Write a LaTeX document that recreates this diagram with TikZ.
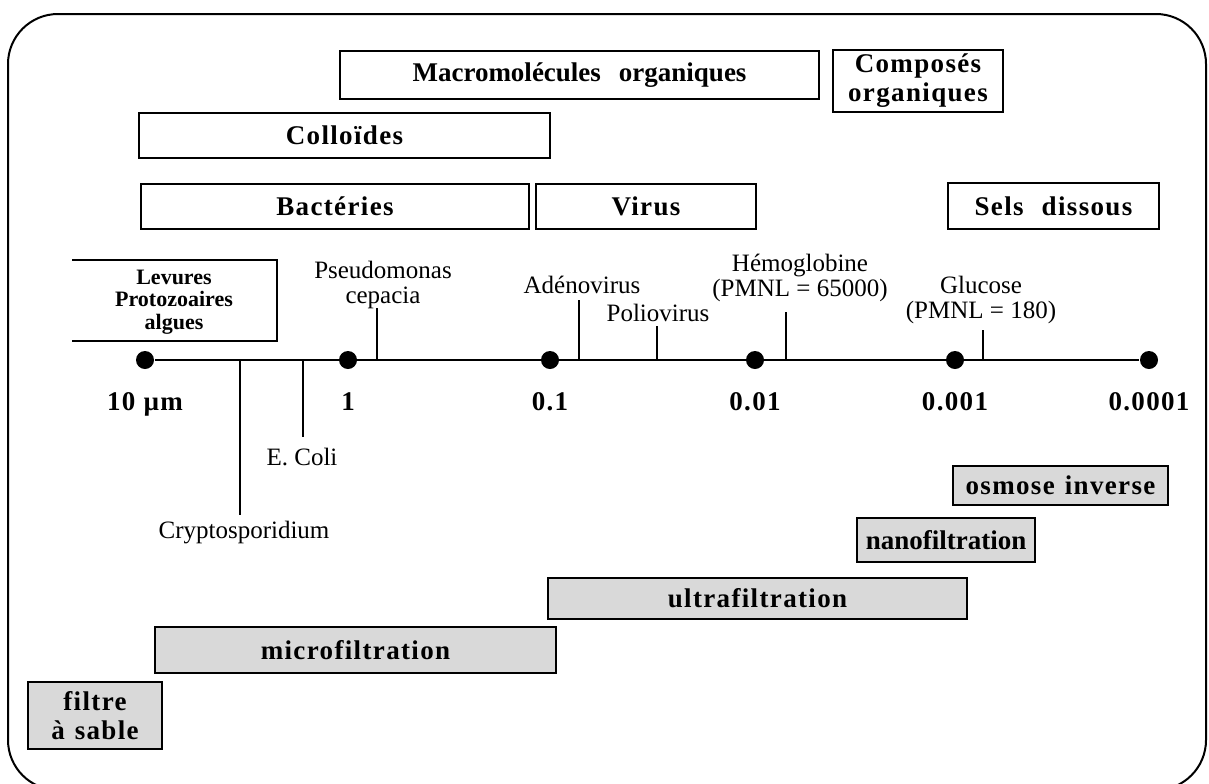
\documentclass[tikz,border=0pt]{standalone}
\usepackage{fontspec}
\setmainfont{Liberation Serif}
\newfontfamily\labfont[LetterSpace=5]{Liberation Serif}
\usetikzlibrary{positioning}

\begin{document}
\begin{tikzpicture}[x=0.5pt,y=-0.5pt,line width=1pt,
    box/.style={draw,inner sep=0pt,align=center,font=\labfont\bfseries\fontsize{13.5}{14.5}\selectfont},
    filt/.style={box,fill=black!15},
    dot/.style={circle,fill,inner sep=0pt,minimum size=9pt},
    num/.style={inner sep=0pt,font=\labfont\bfseries\fontsize{13.5}{15}\selectfont},
    lbl/.style={inner sep=0pt,align=center,font=\fontsize{12.5}{12.5}\selectfont}]
    \useasboundingbox (0,0) rectangle (1209,783);
    \draw[rounded corners=25pt] (8,14) rectangle (1206,790);
    \node[box,minimum width=239.5pt,minimum height=24pt,font=\bfseries\fontsize{13.5}{14.5}\selectfont] (macro) at (579.5,75) {Macromolécules\hspace{9pt}organiques};
    \node[box,minimum width=85pt,minimum height=31pt] (compo) at (918,81) {Composés\\organiques};
    \node[box,minimum width=205.5pt,minimum height=22.5pt] (coll) at (344.5,135.5) {Colloïdes};
    \node[box,minimum width=194pt,minimum height=22.5pt] (bact) at (335,206.5) {Bactéries};
    \node[box,minimum width=110pt,minimum height=22.5pt] (virus) at (646,206.5) {Virus};
    \node[box,minimum width=105.5pt,minimum height=23pt] (sels) at (1053.5,206) {Sels\hspace{9pt}dissous};
    \draw (72,260) -| (277,341) -- (72,341);
    \node[lbl,font=\bfseries\fontsize{11}{11.25}\selectfont] (levures) at (174,302) {Levures\\Protozoaires\\algues};
    \node[dot] (d10) at (145,360) {};
    \node[dot] (d1) at (348,360) {};
    \node[dot] (d01) at (550,360) {};
    \node[dot] (d001) at (755,360) {};
    \node[dot] (d0001) at (955,360) {};
    \node[dot] (d00001) at (1149,360) {};
    \draw (d10) -- (d00001);
    \node[num,below=11pt of d10] (n10) {10 µm};
    \node[num,below=11pt of d1] (n1) {1};
    \node[num,below=11pt of d01] (n01) {0.1};
    \node[num,below=11pt of d001] (n001) {0.01};
    \node[num,below=11pt of d0001] (n0001) {0.001};
    \node[num,below=11pt of d00001] (n00001) {0.0001};
    \coordinate (pse) at (377,308);
    \coordinate (ade) at (579,300);
    \coordinate (pol) at (657,326);
    \coordinate (hem) at (786,312);
    \coordinate (glu) at (983,330);
    \coordinate (eco) at (303,437);
    \coordinate (cry) at (240,515);
    \draw (pse) -- (pse |- d1);
    \draw (ade) -- (ade |- d1);
    \draw (pol) -- (pol |- d1);
    \draw (hem) -- (hem |- d1);
    \draw (glu) -- (glu |- d1);
    \draw (eco |- d1) -- (eco);
    \draw (cry |- d1) -- (cry);
    \node[lbl] (pseL) at (383,285) {Pseudomonas\\cepacia};
    \node[lbl] (adeL) at (582,285) {Adénovirus};
    \node[lbl] (polL) at (658,313) {Poliovirus};
    \node[lbl] (hemL) at (800,278) {Hémoglobine\\(PMNL = 65000)};
    \node[lbl] (gluL) at (981,300) {Glucose\\(PMNL = 180)};
    \node[lbl] (ecoL) at (302,457) {E. Coli};
    \node[lbl] (cryL) at (244,533) {Cryptosporidium};
    \node[filt,minimum width=107.5pt,minimum height=19.5pt] (osmo) at (1060.5,485.5) {osmose\hspace{5pt}inverse};
    \node[filt,minimum width=89pt,minimum height=22pt,font=\bfseries\fontsize{13.5}{14.5}\selectfont] (nano) at (946,540) {nanofiltration};
    \node[filt,minimum width=209.5pt,minimum height=20.5pt] (ultra) at (757.5,598.5) {ultrafiltration};
    \node[filt,minimum width=200.5pt,minimum height=23pt] (micro) at (355.5,650) {microfiltration};
    \node[filt,minimum width=67pt,minimum height=33.5pt] (sable) at (95,715.5) {filtre\\à\hspace{5pt}sable};
\end{tikzpicture}
\end{document}
